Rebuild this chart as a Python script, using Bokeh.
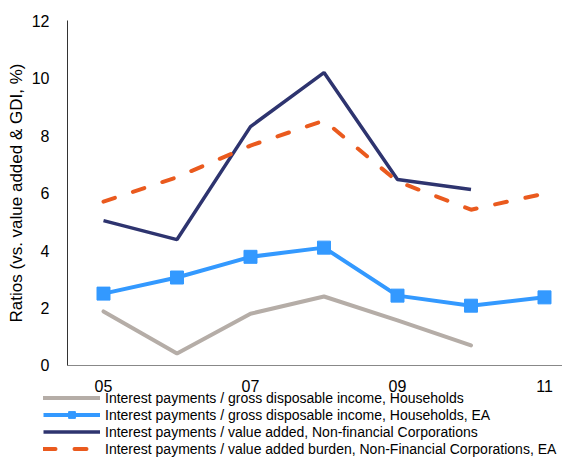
from bokeh.plotting import figure
from bokeh.models import Legend, LegendItem, Range1d, FixedTicker, LinearAxis
from bokeh.embed import file_html
from bokeh.resources import INLINE

years = [2005, 2006, 2007, 2008, 2009, 2010, 2011]
tick_years = [2005, 2007, 2009, 2011]
tick_labels = {2005: "05", 2007: "07", 2009: "09", 2011: "11"}
y_ticks = [0, 2, 4, 6, 8, 10, 12]

hh_gdi = [1.88, 0.42, 1.80, 2.40, 1.57, 0.70]
hh_gdi_ea = [2.50, 3.06, 3.78, 4.10, 2.43, 2.08, 2.37]
nfc_va = [5.04, 4.38, 8.31, 10.19, 6.47, 6.12]
nfc_va_ea = [5.70, 6.55, 7.65, 8.52, 6.40, 5.42, 5.98]

names = [
    "Interest payments / gross disposable income, Households",
    "Interest payments / gross disposable income, Households, EA",
    "Interest payments / value added, Non-financial Corporations",
    "Interest payments / value added burden, Non-Financial Corporations, EA",
]

GRAY = "#b5ada7"
BLUE = "#3399ff"
NAVY = "#2e346f"
ORANGE = "#ea5a1e"
FONT = "Liberation Sans"

# axis extents (plot area of the reference)
X0, X1 = 2004.51, 2011.245
Y0, Y1 = 0, 12

p = figure(width=562, height=458, output_backend="svg", toolbar_location=None,
           x_range=Range1d(2003.5986, 2011.245), y_range=Range1d(-3.235, 12.696),
           x_axis_location=None, y_axis_location=None,
           min_border_left=0, min_border_right=0, min_border_top=0,
           min_border_bottom=0)
p.outline_line_color = None
p.grid.grid_line_color = None

r1 = p.line(years[:len(hh_gdi)], hh_gdi, line_color=GRAY, line_width=4, line_cap="round")
r2 = p.line(years, hh_gdi_ea, line_color=BLUE, line_width=4)
r2m = p.scatter(years, hh_gdi_ea, marker="square", size=13, fill_color=BLUE, line_color=BLUE)
r3 = p.line(years[:len(nfc_va)], nfc_va, line_color=NAVY, line_width=3.5)
r4 = p.line(years, nfc_va_ea, line_color=ORANGE, line_width=4, line_dash="12 19", line_cap="round")

xax = LinearAxis(fixed_location=Y0, bounds=(X0, X1),
                 ticker=FixedTicker(ticks=tick_years),
                 major_label_overrides=tick_labels)
yax = LinearAxis(fixed_location=X0, bounds=(Y0, Y1),
                 ticker=FixedTicker(ticks=y_ticks))
for ax in (xax, yax):
    ax.major_tick_line_color = None
    ax.minor_tick_line_color = None
    ax.major_label_text_font = FONT
    ax.major_label_text_font_size = "16px"
    ax.major_label_text_color = "#000000"
xax.axis_line_color = "#888888"
yax.axis_line_color = "#333333"
xax.major_label_standoff = 9
yax.major_label_standoff = 12
yax.axis_label = "Ratios (vs. value added & GDI, %)"
yax.axis_label_text_font = FONT
yax.axis_label_text_font_size = "17px"
yax.axis_label_text_font_style = "normal"
yax.axis_label_text_color = "#000000"
yax.axis_label_standoff = 3
p.add_layout(xax, "below")
p.add_layout(yax, "left")

legend = Legend(items=[
    LegendItem(label=names[0], renderers=[r1]),
    LegendItem(label=names[1], renderers=[r2, r2m]),
    LegendItem(label=names[2], renderers=[r3]),
    LegendItem(label=names[3], renderers=[r4]),
], location=(43, 1), orientation="vertical",
    glyph_width=57, glyph_height=17, label_height=17, spacing=0,
    label_standoff=5, padding=0, margin=0,
    label_text_font=FONT, label_text_font_size="14px", label_text_color="#000000",
    background_fill_alpha=0, border_line_color=None)
p.add_layout(legend, "center")

open("out.html", "w").write(file_html(p, INLINE))
